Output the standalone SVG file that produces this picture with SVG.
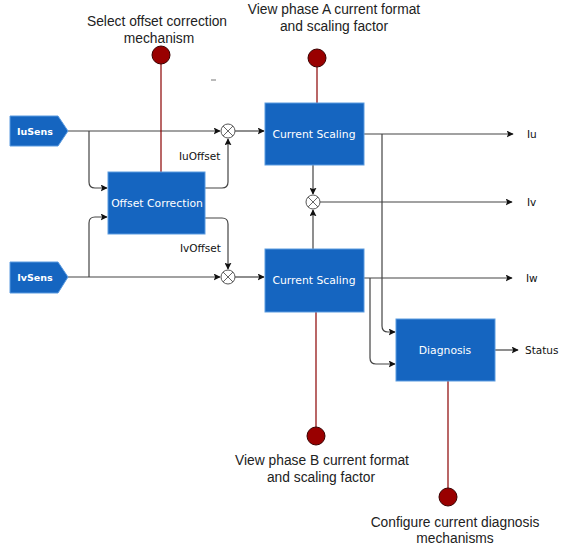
<svg xmlns="http://www.w3.org/2000/svg" width="563" height="546" viewBox="0 0 563 546">
<style>
.blk{fill:#1565C0;stroke:#5B9BE0;stroke-width:1}
.bt{fill:#fff;font-family:"DejaVu Sans",Verdana,sans-serif;font-size:10.8px;text-anchor:middle;dominant-baseline:central}
.st{fill:#fff;font-family:"DejaVu Sans",Verdana,sans-serif;font-size:9.5px;font-weight:bold;text-anchor:middle;dominant-baseline:central}
.lbl{fill:#111;font-family:"DejaVu Sans",Verdana,sans-serif;font-size:10.5px;dominant-baseline:central}
.ann{fill:#222;font-family:"Liberation Sans",Arial,sans-serif;font-size:13.8px;text-anchor:middle}
.con{fill:none;stroke:#444;stroke-width:1.2}
.red{stroke:#8B0000;stroke-width:1.2;fill:none}
.pin{fill:#990000;stroke:#3a0000;stroke-width:1}
.sum{fill:#fff;stroke:#555;stroke-width:1}
.x{stroke:#555;stroke-width:0.9}
</style>
<defs>
<marker id="ah" viewBox="0 0 10 10" refX="9" refY="5" markerWidth="7" markerHeight="7" orient="auto" markerUnits="userSpaceOnUse">
<path d="M0,0 L10,5 L0,10 L2,5 Z" fill="#111"/>
</marker>
</defs>
<rect width="563" height="546" fill="#fff"/>

<g id="connectors">
<path class="con" d="M68,131 H220" marker-end="url(#ah)"/>
<path class="con" d="M89,131 V182 Q89,188 95,188 H107" marker-end="url(#ah)"/>
<path class="con" d="M68,277 H220" marker-end="url(#ah)"/>
<path class="con" d="M89,277 V223 Q89,217 95,217 H107" marker-end="url(#ah)"/>
<path class="con" d="M205,188 H222 Q228,188 228,182 V139" marker-end="url(#ah)"/>
<path class="con" d="M205,218 H222 Q228,218 228,224 V269" marker-end="url(#ah)"/>
<path class="con" d="M235,131 H264" marker-end="url(#ah)"/>
<path class="con" d="M235,277 H264" marker-end="url(#ah)"/>
<path class="con" d="M313,165 V194" marker-end="url(#ah)"/>
<path class="con" d="M313,249 V210" marker-end="url(#ah)"/>
<path class="con" d="M320,202 H512" marker-end="url(#ah)"/>
<path class="con" d="M364,134 H513" marker-end="url(#ah)"/>
<path class="con" d="M382,134 V326 Q382,332 388,332 H395" marker-end="url(#ah)"/>
<path class="con" d="M364,278 H512" marker-end="url(#ah)"/>
<path class="con" d="M370,278 V358 Q370,364 376,364 H395" marker-end="url(#ah)"/>
<path class="con" d="M495,350 H518" marker-end="url(#ah)"/>
<path class="red" d="M161,64 V172"/>
<path class="red" d="M317,67 V103"/>
<path class="red" d="M316,312 V427"/>
<path class="red" d="M448,381 V488"/>
</g>

<g id="IuSens"><polygon class="blk" points="10,116 58,116 68,131 58,146 10,146"/><text class="st" x="35" y="131">IuSens</text></g>
<g id="IvSens"><polygon class="blk" points="10,262 58,262 68,277 58,293 10,293"/><text class="st" x="35" y="277">IvSens</text></g>
<g id="OffsetCorrection"><rect class="blk" x="108" y="172" width="97" height="62"/><text class="bt" x="157" y="203">Offset Correction</text></g>
<g id="CurrentScalingA"><rect class="blk" x="265" y="103" width="99" height="62"/><text class="bt" x="314" y="134">Current Scaling</text></g>
<g id="CurrentScalingB"><rect class="blk" x="265" y="249" width="99" height="63"/><text class="bt" x="314" y="280">Current Scaling</text></g>
<g id="Diagnosis"><rect class="blk" x="396" y="319" width="99" height="62"/><text class="bt" x="445" y="350">Diagnosis</text></g>

<g id="SumU"><circle class="sum" cx="228" cy="131" r="7"/><path class="x" d="M223,126 L233,136 M233,126 L223,136"/></g>
<g id="SumV"><circle class="sum" cx="228" cy="277" r="7"/><path class="x" d="M223,272 L233,282 M233,272 L223,282"/></g>
<g id="SumMid"><circle class="sum" cx="313" cy="202" r="7"/><path class="x" d="M308,197 L318,207 M318,197 L308,207"/></g>

<g id="labels">
<text class="lbl" x="179" y="156">IuOffset</text>
<text class="lbl" x="180" y="248">IvOffset</text>
<text class="lbl" x="527" y="134">Iu</text>
<text class="lbl" x="527" y="202">Iv</text>
<text class="lbl" x="526" y="278">Iw</text>
<text class="lbl" x="525" y="350">Status</text>
</g>

<g id="PinOffset"><circle class="pin" cx="161" cy="55" r="9"/><text class="ann" x="157" y="26">Select offset correction</text><text class="ann" x="159" y="43">mechanism</text></g>
<g id="PinA"><circle class="pin" cx="317" cy="58" r="9"/><text class="ann" x="334" y="14">View phase A current format</text><text class="ann" x="334" y="31">and scaling factor</text></g>
<g id="PinB"><circle class="pin" cx="316" cy="436" r="9"/><text class="ann" x="322" y="465">View phase B current format</text><text class="ann" x="321" y="482">and scaling factor</text></g>
<g id="PinDiag"><circle class="pin" cx="448" cy="497" r="9"/><text class="ann" x="455" y="527">Configure current diagnosis</text><text class="ann" x="455" y="543">mechanisms</text></g>
<line x1="211" y1="80" x2="216" y2="80" stroke="#777" stroke-width="1"/>
</svg>
